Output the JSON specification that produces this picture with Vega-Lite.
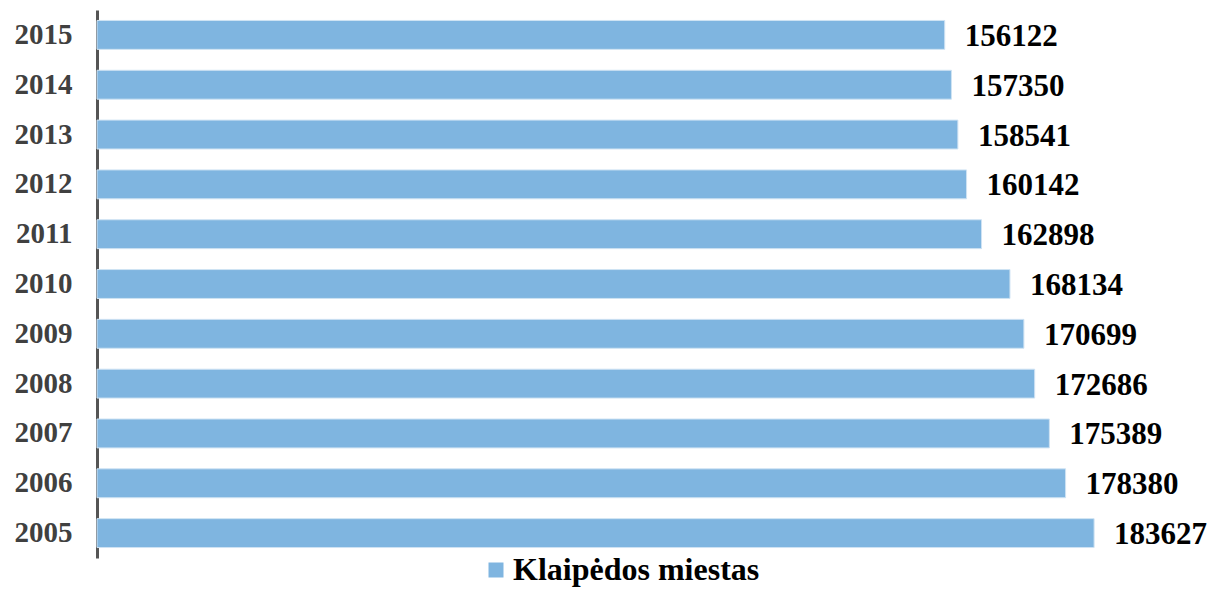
{
  "$schema": "https://vega.github.io/schema/vega-lite/v6.json",
  "width": 1086,
  "height": 548,
  "autosize": {"type": "none"},
  "padding": {"left": 97, "top": 10, "right": 31, "bottom": 33},
  "background": "white",
  "config": {"view": {"stroke": null}},
  "data": {
    "values": [
      {"year": "2015", "value": 156122, "series": "Klaipėdos miestas"},
      {"year": "2014", "value": 157350, "series": "Klaipėdos miestas"},
      {"year": "2013", "value": 158541, "series": "Klaipėdos miestas"},
      {"year": "2012", "value": 160142, "series": "Klaipėdos miestas"},
      {"year": "2011", "value": 162898, "series": "Klaipėdos miestas"},
      {"year": "2010", "value": 168134, "series": "Klaipėdos miestas"},
      {"year": "2009", "value": 170699, "series": "Klaipėdos miestas"},
      {"year": "2008", "value": 172686, "series": "Klaipėdos miestas"},
      {"year": "2007", "value": 175389, "series": "Klaipėdos miestas"},
      {"year": "2006", "value": 178380, "series": "Klaipėdos miestas"},
      {"year": "2005", "value": 183627, "series": "Klaipėdos miestas"}
    ]
  },
  "encoding": {
    "y": {
      "field": "year",
      "type": "nominal",
      "sort": "descending",
      "scale": {"paddingInner": 0.42, "paddingOuter": 0.21},
      "axis": {
        "title": null,
        "ticks": false,
        "domainColor": "#555555",
        "domainWidth": 3,
        "labelFont": "Liberation Serif",
        "labelFontWeight": "bold",
        "labelFontSize": 29,
        "labelColor": "#404040",
        "labelPadding": 25
      }
    },
    "x": {
      "field": "value",
      "type": "quantitative",
      "scale": {"domain": [0, 200000]},
      "axis": null
    }
  },
  "layer": [
    {
      "mark": {"type": "bar", "stroke": "#cfe3f3", "strokeWidth": 1},
      "encoding": {
        "color": {
          "field": "series",
          "type": "nominal",
          "scale": {"range": ["#7fb5e0"]},
          "legend": {
            "title": null,
            "orient": "none",
            "legendX": 383,
            "legendY": 544,
            "symbolType": "square",
            "symbolSize": 225,
            "symbolStrokeWidth": 0,
            "labelFont": "Liberation Serif",
            "labelFontWeight": "bold",
            "labelFontSize": 32,
            "labelColor": "#000000",
            "labelOffset": 1,
            "labelLimit": 400
          }
        }
      }
    },
    {
      "mark": {
        "type": "text",
        "align": "left",
        "baseline": "middle",
        "dx": 20,
        "dy": 2,
        "font": "Liberation Serif",
        "fontWeight": "bold",
        "fontSize": 31,
        "color": "#000000"
      },
      "encoding": {"text": {"field": "value", "type": "quantitative", "format": "d"}}
    }
  ]
}
